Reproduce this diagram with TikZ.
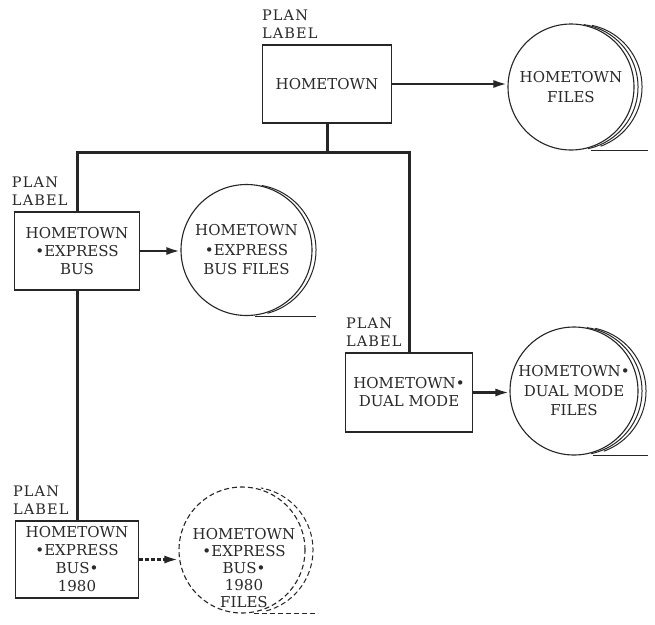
\documentclass[tikz,border=0pt]{standalone}
\usepackage{fontspec}
\setmainfont{DejaVu Serif}
\newfontfamily\lblfont[LetterSpace=8]{DejaVu Serif}
\usetikzlibrary{arrows.meta}
\definecolor{ink}{HTML}{262626}
\definecolor{txt}{HTML}{2A2A2A}
\tikzset{
  planbox/.style={draw=ink, line width=1.4pt, rectangle, inner sep=0pt, align=center,
    font=\fontsize{15}{18}\selectfont, text=txt},
  filecirc/.style={draw=ink, line width=1.1pt, circle, inner sep=0pt, align=center,
    font=\fontsize{15}{19.5}\selectfont, text=txt},
  celltext/.style={align=center, inner sep=0pt, font=\fontsize{15}{17}\selectfont, text=txt},
  plabel/.style={anchor=south west, align=left, inner sep=0pt,
    font=\lblfont\fontsize{14.5}{18}\selectfont, text=txt},
  bus/.style={draw=ink, line width=3pt},
  flow/.style={draw=ink, line width=2.6pt, -{Latex[length=14pt,width=8pt]}},
  extra/.style={draw=ink, line width=1pt},
}
\begin{document}
\begin{tikzpicture}[x=1pt,y=-1pt]
\useasboundingbox (0,0) rectangle (655,624);
\fill[white] (0,0) rectangle (655,624);

% plan boxes
\node[planbox, minimum width=129pt, minimum height=78pt] (b1) at (327,84) {HOMETOWN};
\node[planbox, minimum width=125pt, minimum height=78pt] (b2) at (77,251) {HOMETOWN\\•EXPRESS\\BUS};
\node[planbox, minimum width=127pt, minimum height=79pt] (b3) at (409,392.5) {HOMETOWN•\\DUAL MODE};
\node[planbox, minimum width=123pt, minimum height=77pt] (b4) at (77,559.5) {HOMETOWN\\•EXPRESS\\BUS•\\1980};

% plan labels
\node[plabel] (l1) at ([yshift=6pt]b1.north west) {PLAN\\LABEL};
\node[plabel] (l2) at ([xshift=-2pt,yshift=6pt]b2.north west) {PLAN\\LABEL};
\node[plabel] (l3) at ([xshift=1pt,yshift=6pt]b3.north west) {PLAN\\LABEL};
\node[plabel] (l4) at ([xshift=-2pt,yshift=6pt]b4.north west) {PLAN\\LABEL};

% file circles
\node[filecirc, minimum size=126pt] (c1) at (571,87) {HOMETOWN\\FILES};
\node[filecirc, minimum size=131pt] (c2) at (246.5,250) {HOMETOWN\\•EXPRESS\\BUS FILES};
\node[filecirc, minimum size=128pt] (c3) at (574,391) {HOMETOWN•\\DUAL MODE\\FILES};
\node[filecirc, dashed, dash pattern=on 5pt off 3pt, minimum size=126pt] (c4) at (242,550) {};
\node[celltext] (c4t) at (244,568) {HOMETOWN\\•EXPRESS\\BUS•\\1980\\FILES};

% extra rings
\draw[extra] ([xshift=4pt]c1.center) ++(78:63) arc (78:-82:63);
\draw[extra] ([xshift=8pt]c1.center) ++(70:63) arc (70:-78:63);
\draw[extra] ([xshift=4pt]c2.center) ++(75:65.5) arc (75:-80:65.5);
\draw[extra] ([xshift=4pt]c3.center) ++(78:64) arc (78:-82:64);
\draw[extra] ([xshift=8pt]c3.center) ++(70:64) arc (70:-78:64);
\draw[extra, dashed, dash pattern=on 5pt off 3pt] ([xshift=8pt]c4.center) ++(75:63) arc (75:-80:63);

% base lines
\draw[extra] ([xshift=20pt]c1.south) -- ([xshift=77pt]c1.south);
\draw[extra] ([xshift=8pt]c2.south) -- ([xshift=69pt]c2.south);
\draw[extra] ([xshift=19pt]c3.south) -- ([xshift=74pt]c3.south);
\draw[extra, dashed, dash pattern=on 5pt off 3pt] ([xshift=12pt]c4.south) -- ([xshift=76pt]c4.south);

% hierarchy lines
\coordinate (busy) at (0,152);
\draw[bus] (b1.south) -- (b1.south |- busy);
\draw[bus] (b2.north) -- (b2.north |- busy) -- (b3.north |- busy) -- (b3.north);
\draw[bus] (b2.south) -- (b4.north);

% flows
\draw[flow] (b1.east) -- (b1.east -| c1.west);
\draw[flow] (b2.east) -- (b2.east -| c2.west);
\draw[flow] (b3.east) -- (b3.east -| c3.west);
\draw[flow, dashed, dash pattern=on 4pt off 2pt] (b4.east) -- (b4.east -| c4.west);
\end{tikzpicture}
\end{document}
